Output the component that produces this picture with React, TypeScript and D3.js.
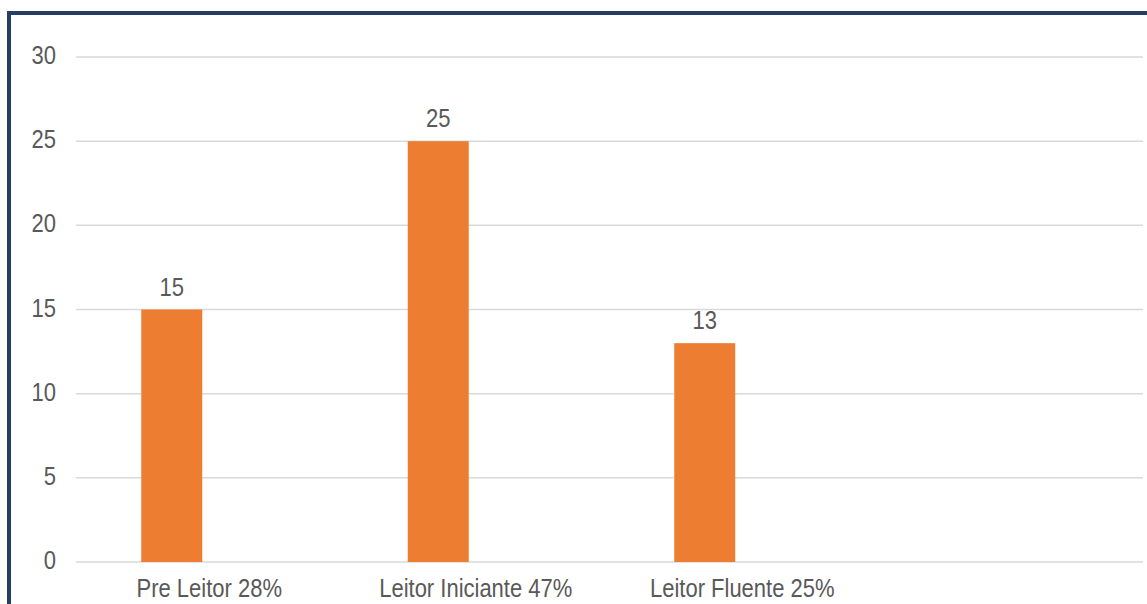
import React, { useEffect, useRef } from "react";
import * as d3 from "d3";

// valores
const categorias = ["Pre Leitor 28%", "Leitor Iniciante 47%", "Leitor Fluente 25%"];
const alunos = [15, 25, 13];
const ticksY = [0, 5, 10, 15, 20, 25, 30];
// a planilha tem uma quarta coluna vazia e uma segunda série vazia
const slots = [...categorias, ""];
const series = ["alunos", "vazio"];

const W = 1147;
const H = 604;

export default function App() {
    const ref = useRef<SVGSVGElement>(null);

    useEffect(() => {
        const svg = d3.select(ref.current);
        svg.selectAll("*").remove();

        const left = 76, right = 1142, top = 57, bottom = 562;
        const font = "'Liberation Sans', Arial, sans-serif";
        const textColor = "#595959";

        const x = d3.scaleBand().domain(slots).range([left, right]).padding(0);
        const xInner = d3.scaleBand().domain(series).range([-68, 68]).paddingInner(0.187);
        const y = d3.scaleLinear().domain([0, 30]).range([bottom, top]);

        // narrow font, like the original
        const addText = (g, tx, ty, txt, anchor) => {
            g.append("text")
                .attr("transform", `translate(${tx},${ty}) scale(0.88,1)`)
                .attr("text-anchor", anchor)
                .attr("font-family", font)
                .attr("font-size", 25)
                .attr("fill", textColor)
                .text(txt);
        };

        // grid lines
        svg.append("g")
            .selectAll("line")
            .data(ticksY)
            .enter().append("line")
            .attr("x1", left)
            .attr("x2", right + 1)
            .attr("y1", d => y(d))
            .attr("y2", d => y(d))
            .attr("stroke", "#d9d9d9")
            .attr("stroke-width", 1.5);

        const labels = svg.append("g");
        ticksY.forEach(t => addText(labels, 56, y(t) + 7, String(t), "end"));

        // bars
        svg.append("g")
            .selectAll("rect")
            .data(alunos)
            .enter().append("rect")
            .attr("x", (d, i) => x(categorias[i]) + x.bandwidth() / 2 + xInner("alunos"))
            .attr("width", xInner.bandwidth())
            .attr("y", d => y(d))
            .attr("height", d => bottom - y(d))
            .attr("fill", "#ED7D31");

        // value labels
        alunos.forEach((v, i) => {
            const cx = x(categorias[i]) + x.bandwidth() / 2 + xInner("alunos") + xInner.bandwidth() / 2;
            addText(labels, cx, y(v) - 14, String(v), "middle");
        });

        // category labels
        categorias.forEach(c => addText(labels, x(c) + x.bandwidth() / 2, 597, c, "middle"));

        // frame
        svg.append("rect")
            .attr("x", 9)
            .attr("y", 13)
            .attr("width", W + 20)
            .attr("height", H + 20)
            .attr("fill", "none")
            .attr("stroke", "#263f62")
            .attr("stroke-width", 4);
    }, []);

    return (
        <svg
            ref={ref}
            width={W}
            height={H}
            style={{ position: "absolute", left: 0, top: 0, display: "block", background: "#fff" }}
        ></svg>
    );
}
